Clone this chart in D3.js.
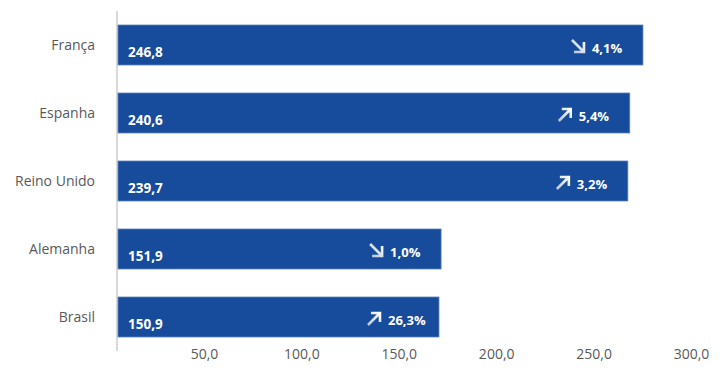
<!DOCTYPE html>
<html>
<head>
<meta charset="utf-8">
<script src="https://cdn.jsdelivr.net/npm/d3@7"></script>
<style>
  body { margin: 0; background: #fff; }
  svg text { font-family: "Open Sans", "Liberation Sans", sans-serif; }
</style>
</head>
<body>
<div id="chart"></div>
<script>
// chart data
let categories = ["França", "Espanha", "Reino Unido", "Alemanha", "Brasil"];
let values = [246.8, 240.6, 239.7, 151.9, 150.9];
let changes = ["4,1%", "5,4%", "3,2%", "1,0%", "26,3%"];
let trend = ["down", "up", "up", "down", "up"];
let tickValues = [50, 100, 150, 200, 250, 300];

let width = 728, height = 368;
let fmt = v => v.toFixed(1).replace(".", ",");

let svg = d3.select("#chart").append("svg")
    .attr("width", width)
    .attr("height", height);

let defs = svg.append("defs");
let grad = defs.append("linearGradient").attr("id", "arrowGrad")
    .attr("x1", "0").attr("y1", "1").attr("x2", "1").attr("y2", "0");
grad.append("stop").attr("offset", "0%").attr("stop-color", "#b7c4da");
grad.append("stop").attr("offset", "100%").attr("stop-color", "#ffffff");
defs.append("filter").attr("id", "soft")
    .append("feGaussianBlur").attr("stdDeviation", 0.45);

// bars scale
let x = d3.scaleLinear().domain([0, 300]).range([118, 118 + 300 * 2.127]);
// axis labels scale (labels sit where the picture has them)
let xTicks = d3.scaleLinear().domain([0, 300]).range([106.6, 691]);
let y = d3.scaleBand().domain(categories).range([11, 351])
    .paddingInner(0.412).paddingOuter(0.206);

// vertical axis line
svg.append("line")
    .attr("x1", 117).attr("x2", 117)
    .attr("y1", y.range()[0]).attr("y2", y.range()[1])
    .attr("stroke", "#d9d9d9").attr("stroke-width", 2);

// bottom tick labels
let xAxis = svg.append("g")
    .attr("transform", "translate(0,346)")
    .call(d3.axisBottom(xTicks).tickValues(tickValues).tickSize(0).tickFormat(fmt));
xAxis.select(".domain").remove();
xAxis.selectAll("text")
    .attr("fill", "#595959")
    .style("font-size", "14px");

// category labels
svg.selectAll(".cat")
    .data(categories)
    .join("text")
    .attr("class", "cat")
    .attr("x", 95)
    .attr("y", d => y(d) + y.bandwidth() / 2)
    .attr("dy", "0.35em")
    .attr("text-anchor", "end")
    .attr("fill", "#595959")
    .style("font-size", "14px")
    .text(d => d);

// bars
svg.selectAll(".bar")
    .data(values)
    .join("rect")
    .attr("class", "bar")
    .attr("x", x(0))
    .attr("y", (d, i) => y(categories[i]))
    .attr("width", d => x(d) - x(0))
    .attr("height", y.bandwidth())
    .attr("fill", "#174c9c")
    .attr("stroke", "#5c80bd")
    .attr("stroke-width", 0.8);

// value labels
svg.selectAll(".val")
    .data(values)
    .join("text")
    .attr("class", "val")
    .attr("x", x(0) + 10)
    .attr("y", (d, i) => y(categories[i]) + 32)
    .attr("fill", "#fff")
    .attr("font-weight", "bold")
    .style("font-size", "13.5px")
    .text(d => fmt(d));

// change labels with arrows
svg.selectAll(".chg")
    .data(values)
    .join("text")
    .attr("class", "chg")
    .attr("x", d => x(d) - 51)
    .attr("y", (d, i) => y(categories[i]) + 28)
    .attr("fill", "#fff")
    .attr("font-weight", "bold")
    .style("font-size", "13px")
    .text((d, i) => changes[i]);

svg.selectAll(".arrow")
    .data(values)
    .join("path")
    .attr("class", "arrow")
    .attr("transform", (d, i) => `translate(${x(d) - 72},${y(categories[i]) + 14})`)
    .attr("d", (d, i) => trend[i] == "up"
        ? "M1,14 L12,3 M4,2 L13,2 L13,11"
        : "M1,1 L12,12 M13,3 L13,13 L3,13")
    .attr("fill", "none")
    .attr("stroke", "url(#arrowGrad)")
    .attr("stroke-width", 2.6)
    .attr("filter", "url(#soft)");
</script>
</body>
</html>
